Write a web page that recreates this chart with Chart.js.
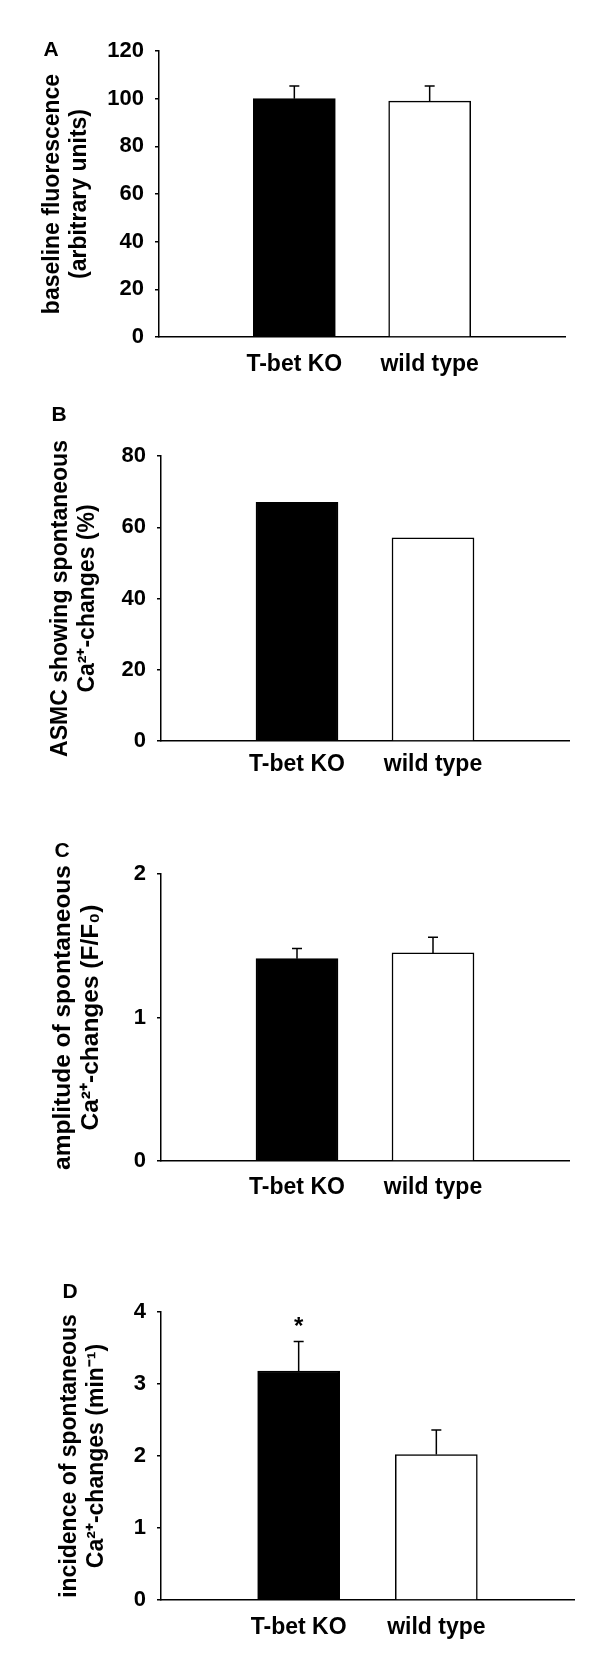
<!DOCTYPE html>
<html>
<head>
<meta charset="utf-8">
<script src="https://cdn.jsdelivr.net/npm/chart.js@4.4.0/dist/chart.umd.min.js"></script>
<style>
body { margin: 0; background: #fff; }
#page { position: relative; width: 600px; height: 1670px; }
canvas { position: absolute; left: 0; }
.tag { position: absolute; font: bold 21px 'Liberation Sans', Arial, sans-serif; transform: translate(-50%, -50%); color: #000; }
</style>
</head>
<body>
<div id="page">
  <canvas id="chartA" width="600" height="400" style="top:0px"></canvas>
  <canvas id="chartB" width="600" height="400" style="top:400px"></canvas>
  <canvas id="chartC" width="600" height="420" style="top:800px"></canvas>
  <canvas id="chartD" width="600" height="450" style="top:1220px"></canvas>
  <div class="tag" style="left:51px;top:49px">A</div>
  <div class="tag" style="left:59px;top:414px">B</div>
  <div class="tag" style="left:62px;top:850px">C</div>
  <div class="tag" style="left:70px;top:1291px">D</div>
</div>
<script>
// groups on the x axis
const groups = ['T-bet KO', 'wild type'];

// A - baseline fluorescence
const baselineMean = [100, 99];
const baselineErr = [5.3, 6.3];
const baselineTicks = [0, 20, 40, 60, 80, 100, 120];

// B - % of ASMC with spontaneous changes
const asmcPct = [67, 57];
const asmcTicks = [0, 20, 40, 60, 80];

// C - amplitude
const amplitudeMean = [1.41, 1.45];
const amplitudeErr = [0.07, 0.11];
const amplitudeTicks = [0, 1, 2];

// D - incidence
const incidenceMean = [3.18, 2.02];
const incidenceErr = [0.41, 0.34];
const incidenceMarks = ['*', ''];
const incidenceTicks = [0, 1, 2, 3, 4];

const FONT = "'Liberation Sans', Arial, sans-serif";

// error bars + significance marks, drawn from the y scale
const errorBars = {
  id: 'errorBars',
  afterDatasetsDraw(chart, args, opts) {
    if (!opts.errors) return;
    const ctx = chart.ctx;
    const y = chart.scales.y;
    const ds = chart.data.datasets[0];
    const meta = chart.getDatasetMeta(0);
    ctx.save();
    ctx.strokeStyle = '#000';
    ctx.lineWidth = 1.5;
    meta.data.forEach((bar, i) => {
      const v = ds.data[i];
      const e = opts.errors[i];
      if (v == null || e == null) return;
      const top = y.getPixelForValue(v + e);
      ctx.beginPath();
      ctx.moveTo(bar.x, bar.y);
      ctx.lineTo(bar.x, top);
      ctx.moveTo(bar.x - 5, top);
      ctx.lineTo(bar.x + 5, top);
      ctx.stroke();
      if (opts.marks && opts.marks[i]) {
        ctx.fillStyle = '#000';
        ctx.font = 'bold 24px ' + FONT;
        ctx.textAlign = 'center';
        ctx.textBaseline = 'middle';
        ctx.fillText(opts.marks[i], bar.x, top - 14);
      }
    });
    ctx.restore();
  }
};

function pad(arr) {
  return [null, ...arr, null];
}

function drawPanel(id, values, errors, marks, ticks, title, lay) {
  new Chart(document.getElementById(id), {
    type: 'bar',
    data: {
      labels: ['', ...groups, ''],
      datasets: [{
        data: pad(values),
        backgroundColor: ['#fff', '#000', '#fff', '#fff'],
        borderColor: '#000',
        borderWidth: 1.5,
        barThickness: 82
      }]
    },
    plugins: [errorBars],
    options: {
      responsive: false,
      animation: false,
      devicePixelRatio: 1,
      layout: { padding: { top: lay.top, right: lay.right, left: 0, bottom: 0 } },
      plugins: {
        legend: { display: false },
        tooltip: { enabled: false },
        errorBars: { errors: errors ? pad(errors) : null, marks: marks ? pad(marks) : null }
      },
      scales: {
        x: {
          offset: false,
          grid: { display: false, drawTicks: false },
          border: { display: true, color: '#000', width: 1.5 },
          ticks: {
            color: '#000',
            autoSkip: false,
            maxRotation: 0,
            padding: lay.labelPad,
            font: { family: FONT, size: 23, weight: 'bold' }
          },
          afterFit: s => { s.height = lay.xHeight; }
        },
        y: {
          min: ticks[0],
          max: ticks[ticks.length - 1],
          afterBuildTicks: s => { s.ticks = ticks.map(v => ({ value: v })); },
          grid: { drawOnChartArea: false, tickLength: 4, color: '#000', lineWidth: 1.5 },
          border: { color: '#000', width: 1.5 },
          ticks: {
            color: '#000',
            padding: 11,
            font: { family: FONT, size: 22, weight: 'bold' }
          },
          title: {
            display: true,
            text: title,
            color: '#000',
            font: { family: FONT, size: lay.titleSize, weight: 'bold', lineHeight: 1.14 },
            padding: { top: lay.titlePad, bottom: 0 }
          },
          afterFit: s => { s.width = lay.axisX; }
        }
      }
    }
  });
}

drawPanel('chartA', baselineMean, baselineErr, null, baselineTicks,
  ['baseline fluorescence', '(arbitrary units)'],
  { top: 51, right: 35, xHeight: 63, labelPad: 14, axisX: 159, titlePad: 40, titleSize: 23 });

drawPanel('chartB', asmcPct, null, null, asmcTicks,
  ['ASMC showing spontaneous', 'Ca²⁺-changes (%)'],
  { top: 56, right: 31, xHeight: 59, labelPad: 10, axisX: 161, titlePad: 48, titleSize: 23 });

drawPanel('chartC', amplitudeMean, amplitudeErr, null, amplitudeTicks,
  ['amplitude of spontaneous', 'Ca²⁺-changes (F/F₀)'],
  { top: 74, right: 31, xHeight: 59, labelPad: 13, axisX: 161, titlePad: 49, titleSize: 24.5 });

drawPanel('chartD', incidenceMean, incidenceErr, incidenceMarks, incidenceTicks,
  ['incidence of spontaneous', 'Ca²⁺-changes (min⁻¹)'],
  { top: 92, right: 26, xHeight: 70, labelPad: 14, axisX: 161, titlePad: 57, titleSize: 23 });
</script>
</body>
</html>
